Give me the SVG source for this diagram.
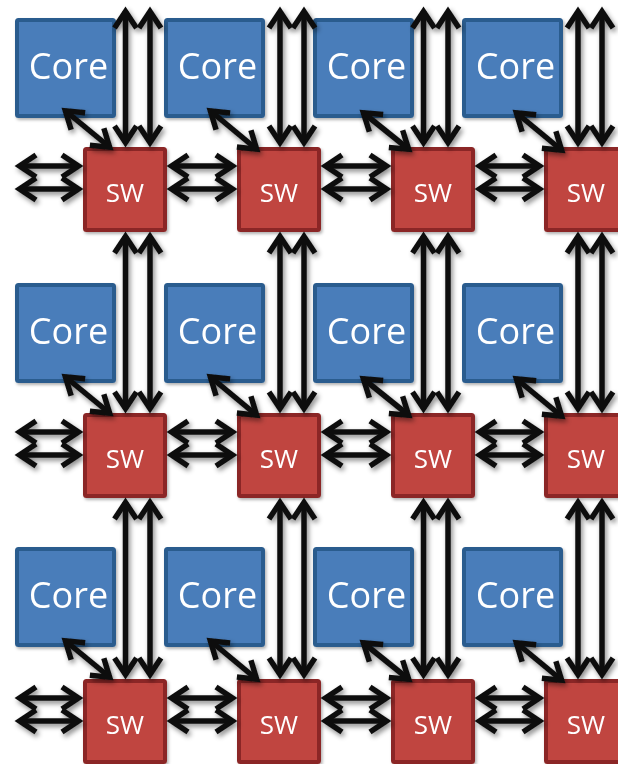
<svg xmlns="http://www.w3.org/2000/svg" width="618" height="764" viewBox="0 0 618 764">
<style>
.core rect{fill:#4A7DBA;stroke:#2B5C8E;stroke-width:4}
.sw rect{fill:#C04441;stroke:#8B2725;stroke-width:4}
.core text,.sw text{fill:#fff;font-family:"Open Sans","Liberation Sans",sans-serif;text-anchor:middle}
.core text{font-size:36px}
.sw text{font-size:26px}
.nodes{filter:url(#sh)}
#connectors line{stroke:#111;stroke-width:5.5;marker-start:url(#ah);marker-end:url(#ah)}
#connectors{filter:url(#sh2)}
</style>
<defs>
<filter id="sh" x="-20%" y="-20%" width="140%" height="140%"><feDropShadow dx="1.5" dy="2" stdDeviation="1.5" flood-color="#000" flood-opacity="0.3"/></filter>
<filter id="sh2" x="-5%" y="-5%" width="110%" height="110%"><feDropShadow dx="2" dy="3" stdDeviation="2.5" flood-color="#000" flood-opacity="0.45"/></filter>
<marker id="ah" markerUnits="userSpaceOnUse" markerWidth="40" markerHeight="40" viewBox="-20 -20 40 40" refX="0" refY="0" orient="auto-start-reverse" overflow="visible">
<path d="M-17,-11 L-0.5,0 L-17,11" fill="none" stroke="#111" stroke-width="5.5" stroke-linejoin="miter"/>
</marker>
</defs>
<g class="nodes">
<g id="core-1-1" class="core"><rect x="17" y="20" width="97" height="96" rx="1.5"/><text x="68.5" y="79">Core</text></g>
<g id="core-1-2" class="core"><rect x="166" y="20" width="97" height="96" rx="1.5"/><text x="217.5" y="79">Core</text></g>
<g id="core-1-3" class="core"><rect x="315" y="20" width="97" height="96" rx="1.5"/><text x="366.5" y="79">Core</text></g>
<g id="core-1-4" class="core"><rect x="464" y="20" width="97" height="96" rx="1.5"/><text x="515.5" y="79">Core</text></g>
<g id="core-2-1" class="core"><rect x="17" y="285" width="97" height="96" rx="1.5"/><text x="68.5" y="344">Core</text></g>
<g id="core-2-2" class="core"><rect x="166" y="285" width="97" height="96" rx="1.5"/><text x="217.5" y="344">Core</text></g>
<g id="core-2-3" class="core"><rect x="315" y="285" width="97" height="96" rx="1.5"/><text x="366.5" y="344">Core</text></g>
<g id="core-2-4" class="core"><rect x="464" y="285" width="97" height="96" rx="1.5"/><text x="515.5" y="344">Core</text></g>
<g id="core-3-1" class="core"><rect x="17" y="549" width="97" height="96" rx="1.5"/><text x="68.5" y="608">Core</text></g>
<g id="core-3-2" class="core"><rect x="166" y="549" width="97" height="96" rx="1.5"/><text x="217.5" y="608">Core</text></g>
<g id="core-3-3" class="core"><rect x="315" y="549" width="97" height="96" rx="1.5"/><text x="366.5" y="608">Core</text></g>
<g id="core-3-4" class="core"><rect x="464" y="549" width="97" height="96" rx="1.5"/><text x="515.5" y="608">Core</text></g>

<g id="sw-1-1" class="sw"><rect x="85" y="149" width="80" height="81" rx="1.5"/><text x="125" y="202">SW</text></g>
<g id="sw-1-2" class="sw"><rect x="239" y="149" width="80" height="81" rx="1.5"/><text x="279" y="202">SW</text></g>
<g id="sw-1-3" class="sw"><rect x="393" y="149" width="80" height="81" rx="1.5"/><text x="433" y="202">SW</text></g>
<g id="sw-1-4" class="sw"><rect x="546" y="149" width="80" height="81" rx="1.5"/><text x="586" y="202">SW</text></g>
<g id="sw-2-1" class="sw"><rect x="85" y="415" width="80" height="81" rx="1.5"/><text x="125" y="468">SW</text></g>
<g id="sw-2-2" class="sw"><rect x="239" y="415" width="80" height="81" rx="1.5"/><text x="279" y="468">SW</text></g>
<g id="sw-2-3" class="sw"><rect x="393" y="415" width="80" height="81" rx="1.5"/><text x="433" y="468">SW</text></g>
<g id="sw-2-4" class="sw"><rect x="546" y="415" width="80" height="81" rx="1.5"/><text x="586" y="468">SW</text></g>
<g id="sw-3-1" class="sw"><rect x="85" y="681" width="80" height="81" rx="1.5"/><text x="125" y="734">SW</text></g>
<g id="sw-3-2" class="sw"><rect x="239" y="681" width="80" height="81" rx="1.5"/><text x="279" y="734">SW</text></g>
<g id="sw-3-3" class="sw"><rect x="393" y="681" width="80" height="81" rx="1.5"/><text x="433" y="734">SW</text></g>
<g id="sw-3-4" class="sw"><rect x="546" y="681" width="80" height="81" rx="1.5"/><text x="586" y="734">SW</text></g>
</g>

<g id="connectors">
<line x1="125.5" y1="11" x2="125.5" y2="143"/><line x1="150" y1="11" x2="150" y2="143"/>
<line x1="280" y1="11" x2="280" y2="143"/><line x1="304" y1="11" x2="304" y2="143"/>
<line x1="423.5" y1="11" x2="423.5" y2="143"/><line x1="448" y1="11" x2="448" y2="143"/>
<line x1="578" y1="11" x2="578" y2="143"/><line x1="602" y1="11" x2="602" y2="143"/>
<line x1="125.5" y1="236" x2="125.5" y2="409"/><line x1="150" y1="236" x2="150" y2="409"/>
<line x1="280" y1="236" x2="280" y2="409"/><line x1="304" y1="236" x2="304" y2="409"/>
<line x1="423.5" y1="236" x2="423.5" y2="409"/><line x1="448" y1="236" x2="448" y2="409"/>
<line x1="578" y1="236" x2="578" y2="409"/><line x1="602" y1="236" x2="602" y2="409"/>
<line x1="125.5" y1="502" x2="125.5" y2="675"/><line x1="150" y1="502" x2="150" y2="675"/>
<line x1="280" y1="502" x2="280" y2="675"/><line x1="304" y1="502" x2="304" y2="675"/>
<line x1="423.5" y1="502" x2="423.5" y2="675"/><line x1="448" y1="502" x2="448" y2="675"/>
<line x1="578" y1="502" x2="578" y2="675"/><line x1="602" y1="502" x2="602" y2="675"/>
<g>
<line x1="19" y1="166" x2="79" y2="166"/><line x1="19" y1="189" x2="79" y2="189"/>
<line x1="171" y1="166" x2="233" y2="166"/><line x1="171" y1="189" x2="233" y2="189"/>
<line x1="325" y1="166" x2="387" y2="166"/><line x1="325" y1="189" x2="387" y2="189"/>
<line x1="479" y1="166" x2="540" y2="166"/><line x1="479" y1="189" x2="540" y2="189"/>
<line x1="65" y1="110.5" x2="110" y2="147.5"/>
<line x1="210" y1="110.5" x2="257" y2="149.5"/>
<line x1="363" y1="112.5" x2="409" y2="149.5"/>
<line x1="516" y1="112.5" x2="562" y2="150.5"/>
</g>
<g transform="translate(0,266)">
<line x1="19" y1="166" x2="79" y2="166"/><line x1="19" y1="189" x2="79" y2="189"/>
<line x1="171" y1="166" x2="233" y2="166"/><line x1="171" y1="189" x2="233" y2="189"/>
<line x1="325" y1="166" x2="387" y2="166"/><line x1="325" y1="189" x2="387" y2="189"/>
<line x1="479" y1="166" x2="540" y2="166"/><line x1="479" y1="189" x2="540" y2="189"/>
<line x1="65" y1="110.5" x2="110" y2="147.5"/>
<line x1="210" y1="110.5" x2="257" y2="149.5"/>
<line x1="363" y1="112.5" x2="409" y2="149.5"/>
<line x1="516" y1="112.5" x2="562" y2="150.5"/>
</g>
<g transform="translate(0,532)">
<line x1="19" y1="166" x2="79" y2="166"/><line x1="19" y1="189" x2="79" y2="189"/>
<line x1="171" y1="166" x2="233" y2="166"/><line x1="171" y1="189" x2="233" y2="189"/>
<line x1="325" y1="166" x2="387" y2="166"/><line x1="325" y1="189" x2="387" y2="189"/>
<line x1="479" y1="166" x2="540" y2="166"/><line x1="479" y1="189" x2="540" y2="189"/>
<line x1="65" y1="108.5" x2="110" y2="145.5"/>
<line x1="210" y1="108.5" x2="257" y2="147.5"/>
<line x1="363" y1="110.5" x2="409" y2="147.5"/>
<line x1="516" y1="110.5" x2="562" y2="148.5"/>
</g>
</g>
</svg>
